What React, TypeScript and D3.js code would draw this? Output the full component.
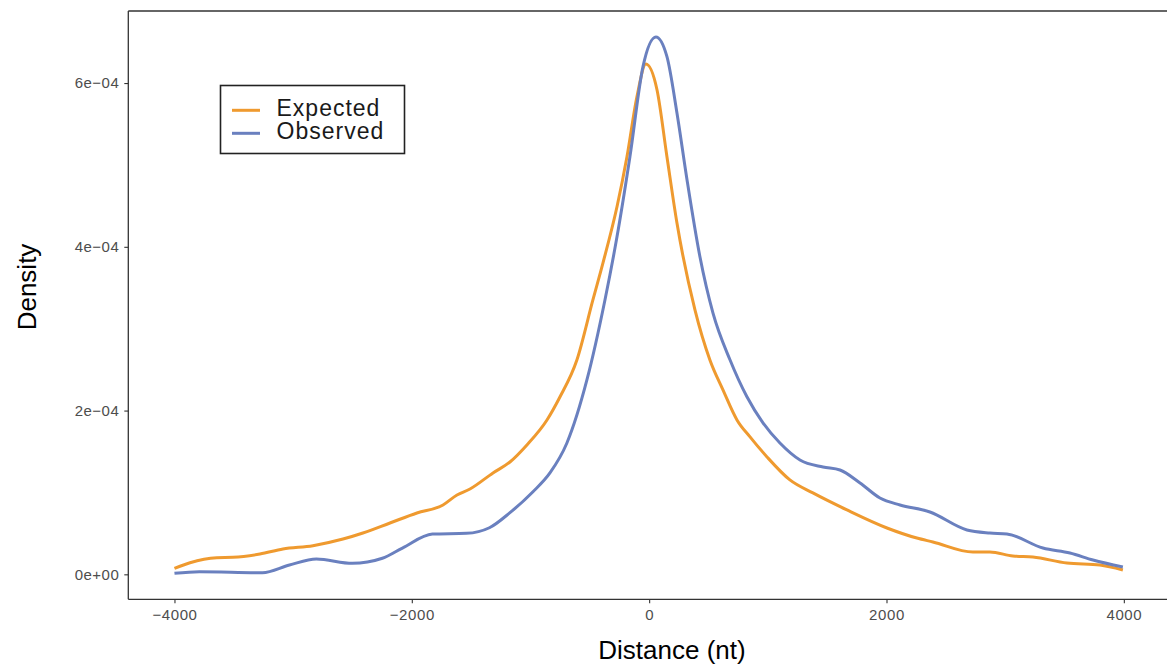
import * as d3 from "d3";
import { useEffect, useRef } from "react";

// distances (nt) and densities (x 1e-4)
const expectedDist = [-4000, -3869, -3644, -3507, -3280, -3086, -2833, -2580, -2412, -2184, -1957, -1737, -1619, -1510, -1316, -1173, -1030, -861, -752, -609, -474, -389, -271, -187, -103, -27, 66, 150, 234, 386, 512, 622, 740, 850, 993, 1186, 1380, 1667, 2004, 2256, 2391, 2728, 2871, 3065, 3234, 3520, 3798, 3992];
const expectedDens = [0.073, 0.142, 0.203, 0.208, 0.248, 0.309, 0.35, 0.431, 0.505, 0.627, 0.749, 0.847, 0.969, 1.042, 1.238, 1.372, 1.58, 1.885, 2.166, 2.618, 3.352, 3.804, 4.489, 5.1, 5.833, 6.232, 5.918, 5.1, 4.293, 3.23, 2.619, 2.253, 1.886, 1.678, 1.434, 1.153, 0.994, 0.786, 0.566, 0.443, 0.395, 0.272, 0.272, 0.224, 0.211, 0.138, 0.114, 0.053];

const observedDist = [-4000, -3790, -3259, -3031, -2804, -2501, -2248, -2079, -1826, -1540, -1346, -1173, -979, -836, -693, -524, -372, -271, -162, -52, 57, 150, 234, 319, 428, 538, 681, 824, 959, 1102, 1271, 1465, 1608, 1777, 1945, 2114, 2366, 2678, 2871, 3015, 3318, 3546, 3740, 3992];
const observedDens = [0.012, 0.032, 0.02, 0.114, 0.187, 0.134, 0.196, 0.321, 0.492, 0.501, 0.569, 0.753, 1.009, 1.238, 1.604, 2.377, 3.354, 4.122, 5.1, 6.2, 6.562, 6.322, 5.638, 4.819, 3.878, 3.19, 2.62, 2.168, 1.85, 1.604, 1.397, 1.311, 1.274, 1.116, 0.932, 0.847, 0.761, 0.542, 0.505, 0.493, 0.321, 0.26, 0.175, 0.089];

const xTicks = [-4000, -2000, 0, 2000, 4000];
const yTicks = [0, 2e-4, 4e-4, 6e-4];
const yTickLabels = ["0e+00", "2e\u221204", "4e\u221204", "6e\u221204"];

const seriesNames = ["Expected", "Observed"];
const seriesColors = ["#EF9A2F", "#6A80BF"];

export default function App() {
  const ref = useRef<SVGSVGElement>(null);

  useEffect(() => {
    const svg = d3.select(ref.current);
    svg.selectAll("*").remove();

    const left = 128.3, top = 11, bottom = 599.3, right = 1170;
    const font = "'Liberation Sans', Arial, Helvetica, sans-serif";

    const x = d3.scaleLinear().domain([-4389, 4389]).range([left, right]);
    const y = d3.scaleLinear().domain([-3.05e-5, 6.88e-4]).range([bottom, top]);

    // top panel line
    svg.append("line").attr("x1", left).attr("x2", 1167).attr("y1", top).attr("y2", top)
      .attr("stroke", "#333").attr("stroke-width", 1.3);

    // y axis
    const yAxis = svg.append("g").attr("transform", `translate(${left},0)`)
      .call(d3.axisLeft(y).tickValues(yTicks).tickSize(4).tickPadding(5)
        .tickFormat((d, i) => yTickLabels[i]));
    yAxis.select(".domain").attr("stroke", "#333").attr("stroke-width", 1.3).attr("d", `M0,${top}V${bottom}`);
    yAxis.selectAll(".tick line").attr("stroke", "#333").attr("stroke-width", 1.1);
    yAxis.selectAll(".tick text").attr("fill", "#4D4D4D").style("font-family", font)
      .style("font-size", "15px").style("letter-spacing", "0.5px");

    // x axis
    const xAxis = svg.append("g").attr("transform", `translate(0,${bottom})`)
      .call(d3.axisBottom(x).tickValues(xTicks).tickSize(4).tickPadding(6)
        .tickFormat((d) => d3.format("d")(d as number).replace("-", "\u2212")));
    xAxis.select(".domain").attr("stroke", "#333").attr("stroke-width", 1.3).attr("d", `M${left},0H1167`);
    xAxis.selectAll(".tick line").attr("stroke", "#333").attr("stroke-width", 1.1);
    xAxis.selectAll(".tick text").attr("fill", "#4D4D4D").style("font-family", font)
      .style("font-size", "15px").style("letter-spacing", "0.6px");

    // density lines
    const line = d3.line<[number, number]>()
      .x((d) => x(d[0]))
      .y((d) => y(d[1] * 1e-4))
      .curve(d3.curveMonotoneX);

    const series = [
      d3.zip(expectedDist, expectedDens) as [number, number][],
      d3.zip(observedDist, observedDens) as [number, number][],
    ];
    series.forEach((s, i) => {
      svg.append("path").datum(s)
        .attr("fill", "none")
        .attr("stroke", seriesColors[i])
        .attr("stroke-width", 3)
        .attr("stroke-linejoin", "round")
        .attr("d", line);
    });

    // axis titles
    svg.append("text").attr("x", 672).attr("y", 659)
      .attr("text-anchor", "middle").style("font-family", font).style("font-size", "26px")
      .attr("fill", "#000").text("Distance (nt)");
    svg.append("text").attr("transform", "translate(36,287) rotate(-90)")
      .attr("text-anchor", "middle").style("font-family", font).style("font-size", "26px")
      .attr("fill", "#000").text("Density");

    // legend
    const lg = svg.append("g");
    lg.append("rect").attr("x", 220.5).attr("y", 85.5).attr("width", 184).attr("height", 68)
      .attr("fill", "#fff").attr("stroke", "#222").attr("stroke-width", 1.6);
    seriesNames.forEach((name, i) => {
      const cy = 110.3 + i * 23;
      lg.append("line").attr("x1", 232).attr("x2", 260).attr("y1", cy).attr("y2", cy)
        .attr("stroke", seriesColors[i]).attr("stroke-width", 3);
      lg.append("text").attr("x", 276.5).attr("y", cy + 5.5)
        .style("font-family", font).style("font-size", "23px").style("letter-spacing", "1px")
        .attr("fill", "#1a1a1a").text(name);
    });
  }, []);

  return (
    <svg ref={ref} width={1167} height={666}
      style={{ position: "absolute", left: 0, top: 0, background: "#fff" }} />
  );
}
